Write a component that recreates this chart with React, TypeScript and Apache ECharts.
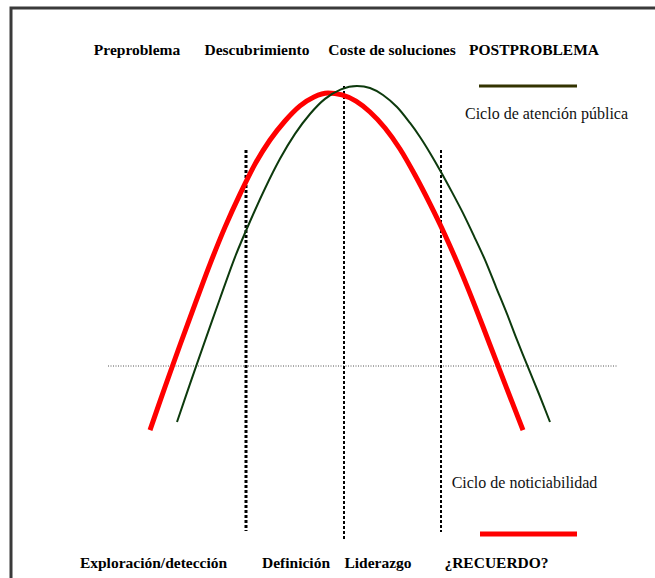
import React, { useEffect, useRef } from "react";
import * as echarts from "echarts";

// Phase labels
const topLabels = ["Preproblema", "Descubrimiento", "Coste de soluciones", "POSTPROBLEMA"];
const bottomLabels = ["Exploración/detección", "Definición", "Liderazgo", "¿RECUERDO?"];
const seriesNames = ["Ciclo de atención pública", "Ciclo de noticiabilidad"];

// Curves: [time, attention level]
const newsCycle: [number, number][] = [
  [10, -22.9], [13, -7.5], [16, 7.5], [19, 22.1], [22, 36.4], [25, 49.6],
  [28, 61.4], [31, 72.1], [34, 80.7], [37, 87.5], [40, 92.9], [42.8, 96.1],
  [45.6, 97.5], [48.4, 96.8], [51.2, 94.6], [54, 90.7], [57, 85], [60, 77.5],
  [63, 68.2], [66, 57.9], [69, 46.8], [72, 34.6], [75, 21.4], [78, 7.5],
  [81, -6.4], [84.6, -22.9],
];
const publicCycle: [number, number][] = [
  [15.4, -20], [18, -6.4], [21, 9], [24, 24.1], [27, 38.9], [30, 51.6],
  [33, 63.4], [36, 74], [39, 82.9], [42, 90], [45, 95.4], [48.2, 98.8],
  [51.4, 100], [54, 99.3], [56.6, 96.8], [59.4, 92.5], [62, 86.8], [64, 81.8],
  [66, 76.1], [68.2, 69.3], [70.4, 62.1], [72.6, 54.6], [74.8, 46.4], [77, 37.9],
  [79.2, 28.2], [81.4, 18.6], [83.4, 9.3], [85.6, -0.4], [87.8, -10], [90, -20],
];

// Phase separators: [x, yTop, yBottom]
const separators: [number, number, number][] = [
  [29.2, 77.1, -58.9],
  [48.8, 100, -62.1],
  [68.2, 77.1, -59.3],
];
const baselineY = 0;
const baselineRange: [number, number] = [1.6, 103.6];

export default function App() {
  const ref = useRef<HTMLDivElement>(null);
  useEffect(() => {
    if (!ref.current) return;
    const chart = echarts.init(ref.current, null, { renderer: "svg" });
    const font = "'Liberation Serif', 'Times New Roman', serif";
    const topX = [137, 257, 392, 534];
    const botX = [153.5, 296, 378, 496.5];
    const sepWidths = [3, 2, 2];

    const graphic: any[] = [
      {
        type: "polyline",
        shape: { points: [[11, 578], [11, 8], [655, 8]] },
        style: { stroke: "#3a3a3a", lineWidth: 3, fill: null },
        z: 10,
      },
      {
        type: "line",
        shape: { x1: 479, y1: 86, x2: 577, y2: 86 },
        style: { stroke: "#333300", lineWidth: 3 },
      },
      {
        type: "line",
        shape: { x1: 480, y1: 534, x2: 577, y2: 534 },
        style: { stroke: "#ff0000", lineWidth: 5 },
      },
      {
        type: "text",
        x: 546.5,
        y: 113,
        style: {
          text: seriesNames[0],
          font: `16px ${font}`,
          fill: "#111",
          textAlign: "center",
          textVerticalAlign: "middle",
        },
      },
      {
        type: "text",
        x: 524.5,
        y: 482,
        style: {
          text: seriesNames[1],
          font: `16px ${font}`,
          fill: "#111",
          textAlign: "center",
          textVerticalAlign: "middle",
        },
      },
      ...topLabels.map((t, i) => ({
        type: "text",
        x: topX[i],
        y: 49,
        style: {
          text: t,
          font: `bold 15.5px ${font}`,
          fill: "#000",
          textAlign: "center",
          textVerticalAlign: "middle",
        },
      })),
      ...bottomLabels.map((t, i) => ({
        type: "text",
        x: botX[i],
        y: 562,
        style: {
          text: t,
          font: `bold 15.5px ${font}`,
          fill: "#000",
          textAlign: "center",
          textVerticalAlign: "middle",
        },
      })),
    ];

    const series: any[] = [
      {
        type: "line",
        name: "baseline",
        data: [[baselineRange[0], baselineY], [baselineRange[1], baselineY]],
        symbol: "none",
        silent: true,
        lineStyle: { color: "#555", width: 1, type: [1, 1.5] },
        z: 1,
      },
      ...separators.map((s, i) => ({
        type: "line",
        name: "sep" + i,
        data: [[s[0], s[1]], [s[0], s[2]]],
        symbol: "none",
        silent: true,
        lineStyle: { color: "#000", width: sepWidths[i], type: [3, 2] },
        z: 2,
      })),
      {
        type: "line",
        name: seriesNames[1],
        data: newsCycle,
        smooth: 0.3,
        symbol: "none",
        lineStyle: { color: "#ff0000", width: 5, join: "round", cap: "butt" },
        z: 3,
      },
      {
        type: "line",
        name: seriesNames[0],
        data: publicCycle,
        smooth: 0.3,
        symbol: "none",
        lineStyle: { color: "#0d3a0d", width: 2, join: "round" },
        z: 4,
      },
    ];

    chart.setOption({
      animation: false,
      backgroundColor: "#ffffff",
      grid: { left: 100, top: 86, width: 550, height: 490 },
      xAxis: { type: "value", min: 0, max: 110, show: false },
      yAxis: { type: "value", min: -75, max: 100, show: false },
      series,
      graphic,
    });
    return () => chart.dispose();
  }, []);
  return (
    <div
      ref={ref}
      style={{ position: "fixed", left: 0, top: 0, width: 655, height: 578 }}
    />
  );
}
